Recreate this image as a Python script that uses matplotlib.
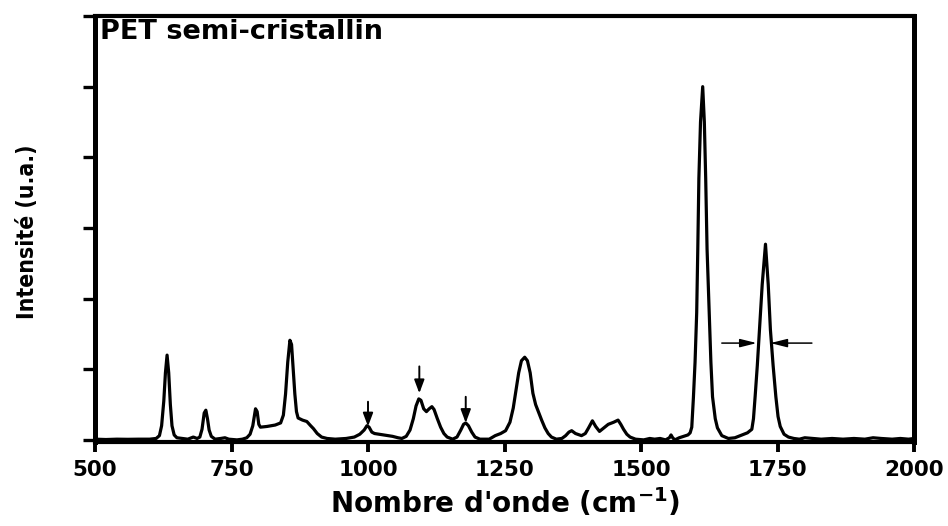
import matplotlib
matplotlib.use("Agg")
import matplotlib.pyplot as plt
from matplotlib import font_manager

# ---- data ----
wavenumber = [500, 520, 540, 560, 580, 600, 612, 618, 622, 626, 629, 632, 635, 638, 641, 645, 650,
              660, 670, 680, 687, 692, 696, 700, 703, 706, 709, 713, 720, 730, 738, 745, 760, 770,
              778, 784, 789, 794, 797, 800, 803, 815, 830, 840, 845, 849, 853, 857, 860, 863, 866,
              869, 872, 880, 888, 895, 900, 907, 915, 925, 940, 960, 975, 985, 993, 998, 1002, 1007,
              1012, 1028, 1045, 1055, 1062, 1070, 1077, 1083, 1088, 1093, 1097, 1102, 1107, 1112,
              1117, 1121, 1127, 1133, 1139, 1145, 1155, 1163, 1170, 1175, 1179, 1184, 1190, 1196,
              1205, 1222, 1233, 1243, 1252, 1260, 1266, 1271, 1276, 1281, 1287, 1292, 1297, 1302,
              1307, 1312, 1318, 1324, 1330, 1336, 1345, 1355, 1362, 1368, 1373, 1380, 1391, 1398,
              1404, 1411, 1417, 1424, 1432, 1440, 1450, 1458, 1463, 1468, 1474, 1480, 1490, 1505,
              1516, 1525, 1535, 1545, 1552, 1555, 1558, 1562, 1570, 1578, 1586, 1590, 1593, 1596,
              1599, 1602, 1604, 1606, 1609, 1613, 1616, 1618.5, 1621, 1625, 1628, 1631, 1636, 1640,
              1648, 1660, 1672, 1685, 1695, 1703, 1706, 1709, 1713, 1717, 1722, 1728, 1733, 1737,
              1742, 1747, 1751, 1755, 1762, 1770, 1780, 1790, 1800, 1815, 1830, 1850, 1870, 1890,
              1910, 1925, 1940, 1960, 1975, 1990, 2000]
intensity = [0.01, 0.005, 0.01, 0.008, 0.01, 0.01, 0.02, 0.06, 0.2, 0.55, 0.95, 1.2, 0.95, 0.5, 0.2,
             0.07, 0.03, 0.02, 0.01, 0.04, 0.02, 0.04, 0.15, 0.38, 0.42, 0.3, 0.14, 0.05, 0.01, 0.02,
             0.03, 0.01, 0.0, 0.01, 0.03, 0.08, 0.2, 0.44, 0.4, 0.22, 0.18, 0.19, 0.21, 0.24, 0.35,
             0.65, 1.1, 1.41, 1.35, 1.0, 0.65, 0.4, 0.31, 0.28, 0.26, 0.2, 0.16, 0.09, 0.04, 0.02,
             0.01, 0.02, 0.04, 0.08, 0.14, 0.2, 0.18, 0.11, 0.09, 0.07, 0.05, 0.03, 0.02, 0.05, 0.14,
             0.3, 0.48, 0.58, 0.56, 0.44, 0.4, 0.44, 0.47, 0.43, 0.3, 0.18, 0.09, 0.04, 0.01, 0.04,
             0.14, 0.22, 0.24, 0.2, 0.11, 0.04, 0.01, 0.01, 0.06, 0.09, 0.13, 0.25, 0.45, 0.7, 0.95,
             1.12, 1.17, 1.12, 0.95, 0.66, 0.5, 0.4, 0.28, 0.17, 0.09, 0.04, 0.01, 0.02, 0.06, 0.11,
             0.13, 0.09, 0.06, 0.09, 0.17, 0.27, 0.19, 0.12, 0.17, 0.22, 0.25, 0.28, 0.22, 0.15,
             0.08, 0.04, 0.01, 0.0, 0.02, 0.01, 0.02, 0.0, 0.03, 0.07, 0.03, 0.0, 0.03, 0.05, 0.07,
             0.1, 0.18, 0.6, 1.1, 1.8, 2.7, 3.7, 4.5, 5.0, 4.5, 3.7, 2.7, 1.8, 1.1, 0.61, 0.3, 0.17,
             0.06, 0.02, 0.03, 0.07, 0.1, 0.15, 0.3, 0.61, 1.05, 1.56, 2.2, 2.77, 2.2, 1.56, 1.05,
             0.61, 0.33, 0.19, 0.08, 0.04, 0.02, 0.01, 0.03, 0.02, 0.01, 0.02, 0.01, 0.02, 0.01,
             0.03, 0.02, 0.01, 0.02, 0.01, 0.02]

x_ticks = [500, 750, 1000, 1250, 1500, 1750, 2000]
y_ticks = [0, 1, 2, 3, 4, 5, 6]

# marker arrows (vertical): position, start (top), tip
v_arrow_x = [1000, 1094, 1179]
v_arrow_top = [0.54, 1.04, 0.61]
v_arrow_tip = [0.19, 0.66, 0.24]
# width arrows (horizontal) at the 1728 band
h_arrow_y = 1.37
h_arrow_from = [1648, 1813]
h_arrow_to = [1712, 1737]

# ---- fonts ----
avail = {f.name for f in font_manager.fontManager.ttflist}
if 'Liberation Sans Narrow' in avail:
    ylab_font = dict(family=['Liberation Sans Narrow', 'DejaVu Sans'], fontsize=22)
else:
    ylab_font = dict(family=['DejaVu Sans', 'Liberation Sans'], fontstretch='condensed', fontsize=16.5)

plt.rcParams['font.family'] = ['DejaVu Sans', 'Liberation Sans']
plt.rcParams['mathtext.fontset'] = 'dejavusans'

fig = plt.figure(figsize=(9.48, 5.26), dpi=100)
ax = fig.add_axes([95/948, 1 - 442/526, (914-95)/948, (442-16)/526])

ax.plot(wavenumber, intensity, color='black', lw=2.3, solid_joinstyle='round')

ax.set_xlim(500, 2000)
ax.set_ylim(-0.03, 6.0)
ax.set_xticks(x_ticks)
ax.set_xticklabels([str(t) for t in x_ticks], fontsize=15.5, fontweight='bold')
ax.set_yticks(y_ticks)
ax.set_yticklabels([])
ax.tick_params(axis='x', direction='out', length=7, width=2.8, pad=6)
ax.tick_params(axis='y', direction='out', length=9, width=2.4)
for side in ['left', 'right']:
    ax.spines[side].set_linewidth(3.6)
for side in ['top', 'bottom']:
    ax.spines[side].set_linewidth(3.0)

for xv, yt, yp in zip(v_arrow_x, v_arrow_top, v_arrow_tip):
    ax.annotate('', xy=(xv, yp), xytext=(xv, yt),
                arrowprops=dict(arrowstyle='-|>,head_length=0.8,head_width=0.3',
                                lw=1.4, color='black', shrinkA=0, shrinkB=0))
for xf, xt in zip(h_arrow_from, h_arrow_to):
    ax.annotate('', xy=(xt, h_arrow_y), xytext=(xf, h_arrow_y),
                arrowprops=dict(arrowstyle='-|>,head_length=1.0,head_width=0.25',
                                lw=1.1, color='black', shrinkA=0, shrinkB=0))

ax.text(0.006, (442 - 39) / 426, 'PET semi-cristallin', transform=ax.transAxes, ha='left',
        va='baseline', fontsize=19.5, fontweight='bold')

fig.text(505/948, 1 - 513/526, "Nombre d'onde (cm$^{\\mathbf{-1}}$)", ha='center', va='baseline',
         fontsize=20, fontweight='bold')
fig.text(28/948, 1 - 232/526, 'Intensité (u.a.)', rotation=90, ha='center', va='center',
         fontweight='bold', **ylab_font)

fig.savefig('out.png', dpi=100)
